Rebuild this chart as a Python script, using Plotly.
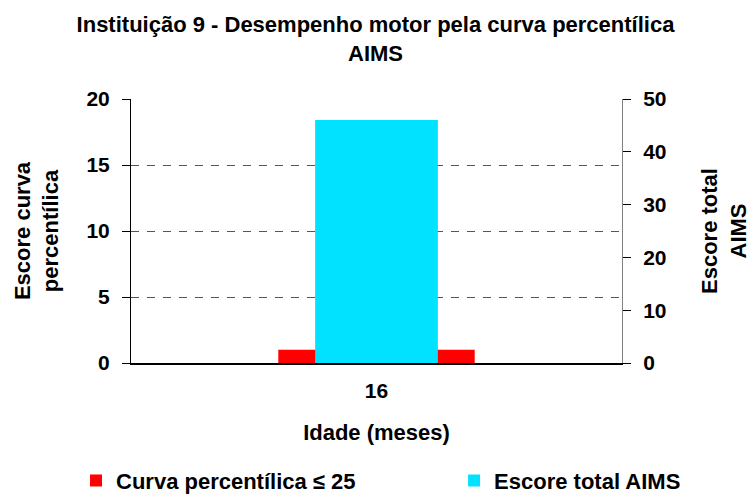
import plotly.graph_objects as go

# dados
idade = ["16"]
curva_percentilica = [1]      # eixo esquerdo
escore_total = [46]           # eixo direito

fonte = "Liberation Sans, Arial, sans-serif"

fig = go.Figure()

fig.add_trace(go.Bar(
    x=idade, y=curva_percentilica, name="<b>Curva percentílica ≤ 25</b>",
    marker=dict(color="#FF0000", line=dict(width=0)), width=0.4,
    yaxis="y", legend="legend"))

fig.add_trace(go.Bar(
    x=idade, y=escore_total, name="<b>Escore total AIMS</b>",
    marker=dict(color="#00E2FF", line=dict(width=0)), width=0.25,
    yaxis="y2", legend="legend2"))

leg = dict(orientation="h", yanchor="top", y=-0.366, xanchor="left",
           font=dict(size=22), itemwidth=30, bgcolor="rgba(0,0,0,0)")

fig.update_layout(
    width=751, height=495,
    margin=dict(l=131, r=129, t=99, b=132, autoexpand=False),
    paper_bgcolor="white", plot_bgcolor="white",
    barmode="overlay", showlegend=True,
    font=dict(family=fonte, size=21, color="black"),
    title=dict(
        text="<b>Instituição 9 - Desempenho motor pela curva percentílica<br>AIMS</b>",
        x=0.5, xanchor="center", yref="container", y=1 - 32 / 495,
        yanchor="middle", font=dict(size=22)),
    xaxis=dict(
        type="category", range=[-0.5, 0.5],
        showline=True, linecolor="black", linewidth=1.5,
        ticks="", tickfont=dict(size=21), ticklabelstandoff=8,
        tickprefix="<b>", ticksuffix="</b>",
        title=dict(text="<b>Idade (meses)</b>", standoff=24, font=dict(size=22))),
    yaxis=dict(
        range=[0, 20], dtick=5,
        showline=True, linecolor="black", linewidth=1,
        ticks="outside", ticklen=8, tickcolor="black", ticklabelstandoff=8,
        showgrid=True, gridcolor="#555555", griddash="8px,8px", gridwidth=1,
        zeroline=False,
        tickprefix="<b>", ticksuffix="</b>", tickfont=dict(size=21),
        title=dict(text="<b>Escore curva<br>percentílica</b>", standoff=21,
                   font=dict(size=22))),
    yaxis2=dict(
        overlaying="y", side="right",
        range=[0, 50], dtick=10,
        showline=True, linecolor="#808080", linewidth=1,
        ticks="outside", ticklen=8, tickcolor="black", ticklabelstandoff=8,
        showgrid=False, zeroline=False,
        tickprefix="<b>", ticksuffix="</b>", tickfont=dict(size=21),
        title=dict(text="<b>Escore total<br>AIMS</b>", standoff=36,
                   font=dict(size=22))),
    legend=dict(leg, x=-0.112),
    legend2=dict(leg, x=0.658),
)

# tira a margem padrão do body para a figura ocupar a janela toda
fig.write_html("out.html", config={"displayModeBar": False},
               post_script="document.body.style.margin='0';")
